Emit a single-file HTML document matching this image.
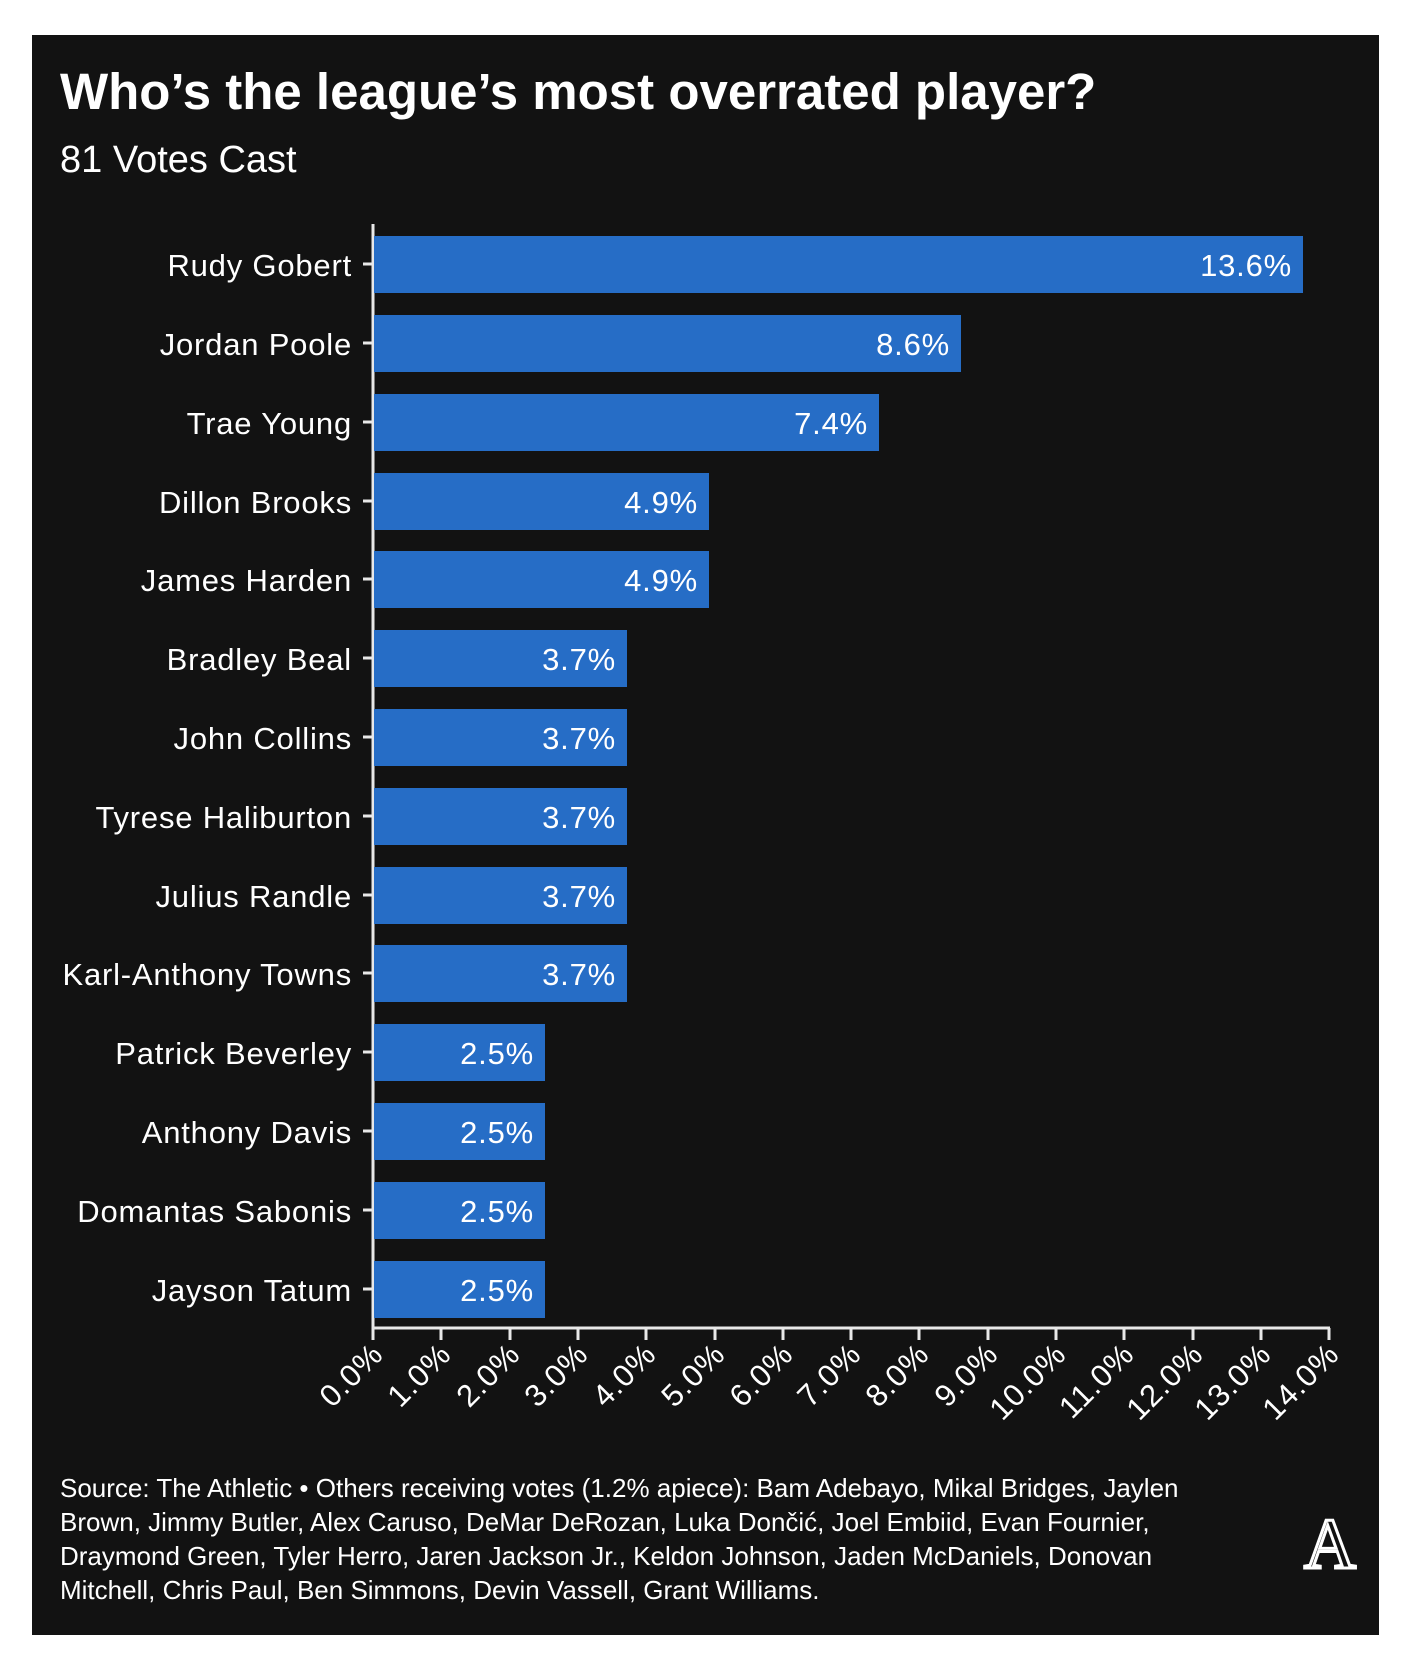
<!DOCTYPE html>
<html><head><style>
html,body{margin:0;padding:0;background:#fff;}
body{width:1416px;height:1660px;position:relative;overflow:hidden;}
</style></head><body>
<svg width="1416" height="1660" xmlns="http://www.w3.org/2000/svg" style="position:absolute;left:0;top:0">
<rect x="32" y="35" width="1347" height="1600" fill="#121212"/>
<text x="60" y="109" fill="#fff" font-family="Liberation Sans, sans-serif" font-weight="bold" font-size="51">Who’s the league’s most overrated player?</text>
<text x="60" y="172" fill="#fff" font-family="Liberation Sans, sans-serif" font-size="38">81 Votes Cast</text>
<line x1="373" y1="224" x2="373" y2="1329" stroke="#e8e8e8" stroke-width="3"/>
<line x1="372" y1="1328" x2="1330" y2="1328" stroke="#e8e8e8" stroke-width="3"/>
<g font-family="Liberation Sans, sans-serif" font-size="26" fill="#fff">
<text x="60" y="1497">Source: The Athletic • Others receiving votes (1.2% apiece): Bam Adebayo, Mikal Bridges, Jaylen</text>
<text x="60" y="1531">Brown, Jimmy Butler, Alex Caruso, DeMar DeRozan, Luka Dončić, Joel Embiid, Evan Fournier,</text>
<text x="60" y="1565">Draymond Green, Tyler Herro, Jaren Jackson Jr., Keldon Johnson, Jaden McDaniels, Donovan</text>
<text x="60" y="1599">Mitchell, Chris Paul, Ben Simmons, Devin Vassell, Grant Williams.</text>
</g>
<text x="1330" y="1568" text-anchor="middle" font-family="Liberation Serif, serif" font-size="72" fill="#121212" stroke="#fff" stroke-width="3">A</text>
<g font-family="Liberation Sans, sans-serif" font-size="31" fill="#fff" letter-spacing="0.8">
<rect x="374" y="236" width="929" height="57" fill="#266dc6"/><text x="1292" y="276" text-anchor="end">13.6%</text><text x="352" y="276" text-anchor="end">Rudy Gobert</text>
<rect x="374" y="315" width="587" height="57" fill="#266dc6"/><text x="950" y="355" text-anchor="end">8.6%</text><text x="352" y="355" text-anchor="end">Jordan Poole</text>
<rect x="374" y="394" width="505" height="57" fill="#266dc6"/><text x="868" y="434" text-anchor="end">7.4%</text><text x="352" y="434" text-anchor="end">Trae Young</text>
<rect x="374" y="473" width="335" height="57" fill="#266dc6"/><text x="698" y="513" text-anchor="end">4.9%</text><text x="352" y="513" text-anchor="end">Dillon Brooks</text>
<rect x="374" y="551" width="335" height="57" fill="#266dc6"/><text x="698" y="591" text-anchor="end">4.9%</text><text x="352" y="591" text-anchor="end">James Harden</text>
<rect x="374" y="630" width="253" height="57" fill="#266dc6"/><text x="616" y="670" text-anchor="end">3.7%</text><text x="352" y="670" text-anchor="end">Bradley Beal</text>
<rect x="374" y="709" width="253" height="57" fill="#266dc6"/><text x="616" y="749" text-anchor="end">3.7%</text><text x="352" y="749" text-anchor="end">John Collins</text>
<rect x="374" y="788" width="253" height="57" fill="#266dc6"/><text x="616" y="828" text-anchor="end">3.7%</text><text x="352" y="828" text-anchor="end">Tyrese Haliburton</text>
<rect x="374" y="867" width="253" height="57" fill="#266dc6"/><text x="616" y="907" text-anchor="end">3.7%</text><text x="352" y="907" text-anchor="end">Julius Randle</text>
<rect x="374" y="945" width="253" height="57" fill="#266dc6"/><text x="616" y="985" text-anchor="end">3.7%</text><text x="352" y="985" text-anchor="end">Karl-Anthony Towns</text>
<rect x="374" y="1024" width="171" height="57" fill="#266dc6"/><text x="534" y="1064" text-anchor="end">2.5%</text><text x="352" y="1064" text-anchor="end">Patrick Beverley</text>
<rect x="374" y="1103" width="171" height="57" fill="#266dc6"/><text x="534" y="1143" text-anchor="end">2.5%</text><text x="352" y="1143" text-anchor="end">Anthony Davis</text>
<rect x="374" y="1182" width="171" height="57" fill="#266dc6"/><text x="534" y="1222" text-anchor="end">2.5%</text><text x="352" y="1222" text-anchor="end">Domantas Sabonis</text>
<rect x="374" y="1261" width="171" height="57" fill="#266dc6"/><text x="534" y="1301" text-anchor="end">2.5%</text><text x="352" y="1301" text-anchor="end">Jayson Tatum</text>
</g>
<g stroke="#e8e8e8" stroke-width="3">
<line x1="363" y1="264" x2="372" y2="264"/><line x1="363" y1="343" x2="372" y2="343"/><line x1="363" y1="422" x2="372" y2="422"/><line x1="363" y1="501" x2="372" y2="501"/><line x1="363" y1="579" x2="372" y2="579"/><line x1="363" y1="658" x2="372" y2="658"/><line x1="363" y1="737" x2="372" y2="737"/><line x1="363" y1="816" x2="372" y2="816"/><line x1="363" y1="895" x2="372" y2="895"/><line x1="363" y1="973" x2="372" y2="973"/><line x1="363" y1="1052" x2="372" y2="1052"/><line x1="363" y1="1131" x2="372" y2="1131"/><line x1="363" y1="1210" x2="372" y2="1210"/><line x1="363" y1="1289" x2="372" y2="1289"/>
<line x1="373" y1="1328" x2="373" y2="1340"/><line x1="441" y1="1328" x2="441" y2="1340"/><line x1="510" y1="1328" x2="510" y2="1340"/><line x1="578" y1="1328" x2="578" y2="1340"/><line x1="646" y1="1328" x2="646" y2="1340"/><line x1="715" y1="1328" x2="715" y2="1340"/><line x1="783" y1="1328" x2="783" y2="1340"/><line x1="851" y1="1328" x2="851" y2="1340"/><line x1="919" y1="1328" x2="919" y2="1340"/><line x1="988" y1="1328" x2="988" y2="1340"/><line x1="1056" y1="1328" x2="1056" y2="1340"/><line x1="1124" y1="1328" x2="1124" y2="1340"/><line x1="1193" y1="1328" x2="1193" y2="1340"/><line x1="1261" y1="1328" x2="1261" y2="1340"/><line x1="1329" y1="1328" x2="1329" y2="1340"/>
</g>
<g font-family="Liberation Sans, sans-serif" font-size="31" fill="#fff" text-anchor="end" letter-spacing="1">
<text transform="translate(385,1356) rotate(-45)">0.0%</text>
<text transform="translate(453,1356) rotate(-45)">1.0%</text>
<text transform="translate(522,1356) rotate(-45)">2.0%</text>
<text transform="translate(590,1356) rotate(-45)">3.0%</text>
<text transform="translate(658,1356) rotate(-45)">4.0%</text>
<text transform="translate(727,1356) rotate(-45)">5.0%</text>
<text transform="translate(795,1356) rotate(-45)">6.0%</text>
<text transform="translate(863,1356) rotate(-45)">7.0%</text>
<text transform="translate(931,1356) rotate(-45)">8.0%</text>
<text transform="translate(1000,1356) rotate(-45)">9.0%</text>
<text transform="translate(1068,1356) rotate(-45)">10.0%</text>
<text transform="translate(1136,1356) rotate(-45)">11.0%</text>
<text transform="translate(1205,1356) rotate(-45)">12.0%</text>
<text transform="translate(1273,1356) rotate(-45)">13.0%</text>
<text transform="translate(1341,1356) rotate(-45)">14.0%</text>
</g>
</svg>
</body></html>
